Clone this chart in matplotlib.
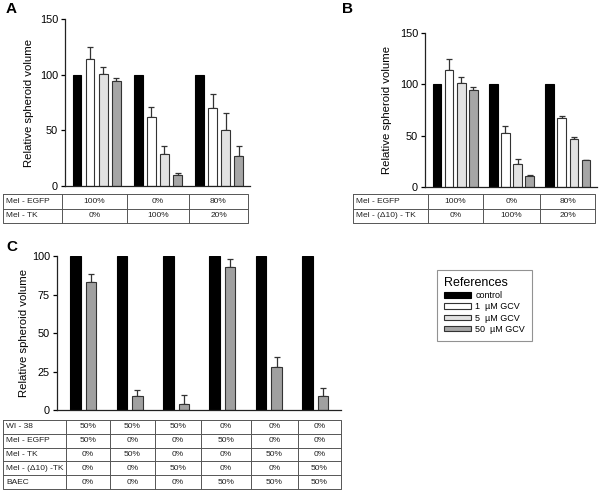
import matplotlib
matplotlib.use("Agg")
import matplotlib.pyplot as plt
import numpy as np

plt.rcParams['font.family'] = ['Liberation Sans', 'DejaVu Sans']
NARROW = ['Liberation Sans Narrow', 'Liberation Sans', 'DejaVu Sans']

W, H = 600, 490

# legend entries / bar colours in order
treatments = ["control", "1  µM GCV", "5  µM GCV", "50  µM GCV"]
colors = ["#000000", "#ffffff", "#e2e2e2", "#a6a6a6"]

# panel A: Mel-EGFP / Mel-TK mixes
a_means = [[100, 114, 101, 94], [100, 62, 29, 10], [100, 70, 50, 27]]
a_err = [[0, 11, 6, 3], [0, 9, 7, 2], [0, 13, 16, 9]]
a_rows = ["Mel - EGFP", "Mel - TK"]
a_cells = [["100%", "0%", "80%"], ["0%", "100%", "20%"]]

# panel B: Mel-EGFP / Mel-(d10)-TK mixes
b_means = [[100, 114, 101, 94], [100, 53, 22, 11], [100, 67, 47, 26]]
b_err = [[0, 11, 6, 3], [0, 6, 5, 1], [0, 2, 2, 0.6]]
b_rows = ["Mel - EGFP", "Mel - (\u039410) - TK"]
b_cells = [["100%", "0%", "80%"], ["0%", "100%", "20%"]]

# panel C: control vs 50 uM GCV for six co-cultures
c_control = [100, 100, 100, 100, 100, 100]
c_gcv50 = [83, 9, 4, 93, 28, 9]
c_err = [5, 4, 6, 5, 6.5, 5.5]
c_rows = ["WI - 38", "Mel - EGFP", "Mel - TK", "Mel - (\u039410) -TK", "BAEC"]
c_cells = [["50%", "50%", "50%", "0%", "0%", "0%"],
           ["50%", "0%", "0%", "50%", "0%", "0%"],
           ["0%", "50%", "0%", "0%", "50%", "0%"],
           ["0%", "0%", "50%", "0%", "0%", "50%"],
           ["0%", "0%", "0%", "50%", "50%", "50%"]]

fig = plt.figure(figsize=(6, 4.9), dpi=100)

# overlay in pixel coordinates for tables and letters
ov = fig.add_axes([0, 0, 1, 1])
ov.set_xlim(0, W)
ov.set_ylim(H, 0)
ov.axis('off')


def px_axes(left, top, right, bottom):
    return fig.add_axes([left / W, 1 - bottom / H, (right - left) / W, (bottom - top) / H])


def style(ax, ymax, ticks):
    ax.set_ylim(0, ymax)
    ax.set_yticks(ticks)
    ax.set_xticks([])
    for s in ['top', 'right']:
        ax.spines[s].set_visible(False)
    for s in ['left', 'bottom']:
        ax.spines[s].set_color('#222222')
        ax.spines[s].set_linewidth(0.9)
    ax.tick_params(axis='y', direction='out', length=3, width=0.9, labelsize=7.8, pad=2)
    ax.set_ylabel("Relative spheroid volume", fontsize=8.2)
    ax.patch.set_alpha(0)


def grouped(ax, means, errs, pitch, width):
    means = np.array(means)
    errs = np.array(errs)
    groups = np.arange(means.shape[0])
    handles = []
    for k in range(means.shape[1]):
        x = groups + (k - 1.5) * pitch
        b = ax.bar(x, means[:, k], width, color=colors[k],
                   edgecolor='#333333' if k else '#000000', linewidth=0.8, zorder=2)
        handles.append(b)
        if k:
            ax.errorbar(x, means[:, k], yerr=[np.zeros(len(x)), errs[:, k]], fmt='none',
                        ecolor='#333333', elinewidth=0.9, capsize=2.5, capthick=0.9, zorder=1)
    return handles


def draw_table(x0, x1, y0, y1, col_edges, rows, cells, fs):
    kw = dict(color='#555555', lw=0.7)
    ov.plot([x0, x1, x1, x0, x0], [y0, y0, y1, y1, y0], **kw)
    n = len(rows)
    ys = np.linspace(y0, y1, n + 1)
    for y in ys[1:-1]:
        ov.plot([x0, x1], [y, y], **kw)
    edges = [x0] + list(col_edges) + [x1]
    for x in col_edges:
        ov.plot([x, x], [y0, y1], **kw)
    for i, name in enumerate(rows):
        yc = (ys[i] + ys[i + 1]) / 2
        ov.text(x0 + 3, yc, name, fontsize=fs, family=NARROW, ha='left', va='center', color='#222222')
        for j, val in enumerate(cells[i]):
            xc = (edges[j + 1] + edges[j + 2]) / 2
            ov.text(xc, yc, val, fontsize=fs, family=NARROW, ha='center', va='center', color='#222222')


# ---- panel A
axA = px_axes(65, 19, 250, 186)
pA, wA = 13.1 / 61.3, 8.8 / 61.3
hA = grouped(axA, a_means, a_err, pA, wA)
axA.set_xlim((65 - 96.6) / 61.3, (250 - 96.6) / 61.3)
style(axA, 150, [0, 50, 100, 150])
axA.yaxis.set_label_coords(-0.17, 0.5)
draw_table(3, 248, 194, 223, [62, 127, 189], a_rows, a_cells, 6)

# ---- panel B
axB = px_axes(425, 33, 597, 187)
pB, wB = 12.1 / 56.3, 8.6 / 56.3
grouped(axB, b_means, b_err, pB, wB)
axB.set_xlim((425 - 455.2) / 56.3, (597 - 455.2) / 56.3)
style(axB, 150, [0, 50, 100, 150])
axB.yaxis.set_label_coords(-0.19, 0.5)
draw_table(353, 595, 194, 223, [428, 483, 540], b_rows, b_cells, 6)

# ---- panel C
axC = px_axes(57, 256, 341, 410)
pC, wC = 15.5 / 46.4, 10.5 / 46.4
gc = np.arange(len(c_control))
axC.bar(gc - pC / 2, c_control, wC, color=colors[0], edgecolor='#000000', linewidth=0.8, zorder=2)
axC.bar(gc + pC / 2, c_gcv50, wC, color="#a0a0a0", edgecolor='#333333', linewidth=0.8, zorder=2)
axC.errorbar(gc + pC / 2, c_gcv50, yerr=[np.zeros(len(gc)), c_err], fmt='none',
             ecolor='#333333', elinewidth=0.9, capsize=2.5, capthick=0.9, zorder=1)
axC.set_xlim((57 - 83.25) / 46.4, (341 - 83.25) / 46.4)
style(axC, 100, [0, 25, 50, 75, 100])
axC.yaxis.set_label_coords(-0.10, 0.5)
draw_table(3, 341, 420, 489, [66, 110, 155, 201, 251, 298], c_rows, c_cells, 6)

# panel letters
for x, y, s in [(6, 9, "A"), (342, 9, "B"), (6, 247, "C")]:
    ov.text(x, y, s, fontsize=11, fontweight='bold', ha='left', va='center')

# legend
leg = fig.legend(handles=hA, labels=treatments, title="References", loc='upper left',
                 bbox_to_anchor=(432 / W, 1 - 265 / H), frameon=True, fancybox=False,
                 fontsize=6.5, title_fontsize=9, handlelength=3.0, handleheight=0.55,
                 labelspacing=0.25, borderpad=0.8, handletextpad=0.5, alignment='left')
leg.get_frame().set_edgecolor('#777777')
leg.get_frame().set_linewidth(0.8)

fig.savefig("out.png", dpi=100)
